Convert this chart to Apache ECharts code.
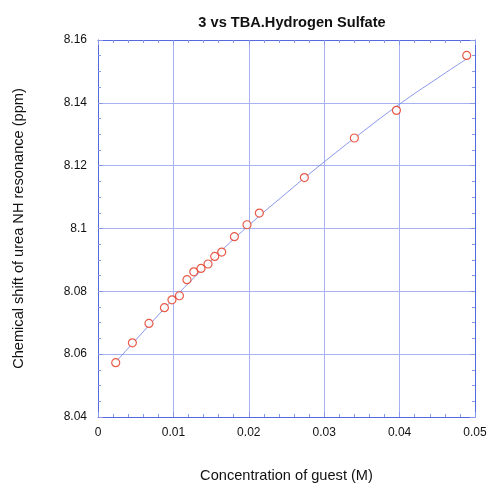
<!DOCTYPE html>
<html><head><meta charset="utf-8">
<script src="https://cdn.jsdelivr.net/npm/echarts@6/dist/echarts.min.js"></script>
<style>html,body{margin:0;padding:0;background:#fff}#c{width:489px;height:484px}</style>
</head><body><div id="c"></div>
<script>
const conc = [0.00235,0.00456,0.00676,0.00881,0.00981,0.0108,0.0118,0.0127,0.01366,0.01459,0.01548,0.01641,0.01809,0.01976,0.0214,0.02737,0.0340,0.03958,0.0489];
const shift = [8.0573,8.0636,8.0698,8.0748,8.0773,8.0786,8.0837,8.0862,8.0873,8.0887,8.0911,8.0925,8.0974,8.1012,8.1049,8.1162,8.1288,8.1376,8.1551];
const fitX = [0.00235,0.005,0.01,0.015,0.02,0.025,0.03,0.035,0.04,0.045,0.0489];
const fitY = [8.0575,8.0645,8.0776,8.0897,8.1010,8.1113,8.1212,8.1306,8.1396,8.1478,8.1540];
const xTicks = ['0','0.01','0.02','0.03','0.04','0.05'];
const yTicks = ['8.04','8.06','8.08','8.1','8.12','8.14','8.16'];

const FONT = '"Liberation Sans", Arial, sans-serif';
const frame = '#5468e0', gridC = '#a8b2f2', tickC = '#8a98ec';
const chart = echarts.init(document.getElementById('c'));
const baseX = {type:'value', min:0, max:0.05, interval:0.01,
  axisLine:{show:true, onZero:false, lineStyle:{color:frame, width:1}},
  axisTick:{show:true, inside:true, length:5, lineStyle:{color:tickC}},
  minorTick:{show:true, splitNumber:5, length:3, lineStyle:{color:tickC}},
  splitLine:{show:false}};
const baseY = {type:'value', min:8.04, max:8.16, interval:0.02,
  axisLine:{show:true, onZero:false, lineStyle:{color:frame, width:1}},
  axisTick:{show:true, inside:true, length:5, lineStyle:{color:tickC}},
  minorTick:{show:true, splitNumber:4, length:3, lineStyle:{color:tickC}},
  splitLine:{show:false}};
chart.setOption({
  animation:false,
  title:{text:'3 vs TBA.Hydrogen Sulfate', left:287, textAlign:'center', top:10,
    textStyle:{fontFamily:FONT, fontSize:14.6, fontWeight:'bold', color:'#111'}},
  grid:{left:98, right:14, top:40, bottom:67, containLabel:false, outerBoundsMode:'none'},
  xAxis:[
    Object.assign({}, baseX, {position:'bottom',
      splitLine:{show:true, lineStyle:{color:gridC, width:1}},
      axisLabel:{margin:10, fontFamily:FONT, fontSize:12, color:'#111',
        formatter:(v)=>xTicks[Math.round(v/0.01)]},
      name:'Concentration of guest (M)', nameLocation:'middle', nameGap:51,
      nameTextStyle:{fontFamily:FONT, fontSize:14.6, color:'#111'}}),
    Object.assign({}, baseX, {position:'top', axisLabel:{show:false}})
  ],
  yAxis:[
    Object.assign({}, baseY, {position:'left',
      splitLine:{show:true, lineStyle:{color:gridC, width:1}},
      axisLabel:{margin:11, fontFamily:FONT, fontSize:12, color:'#111',
        formatter:(v)=>yTicks[Math.round((v-8.04)/0.02)]},
      name:'Chemical shift of urea NH resonance (ppm)', nameLocation:'middle', nameGap:72,
      nameTextStyle:{fontFamily:FONT, fontSize:14.6, color:'#111'}}),
    Object.assign({}, baseY, {position:'right', axisLabel:{show:false}})
  ],
  series:[
    {type:'line', data:fitX.map((x,i)=>[x,fitY[i]]), smooth:true, showSymbol:false, symbol:'none',
      lineStyle:{color:'#6a7ce6', width:0.8}, z:2},
    {type:'scatter', data:conc.map((x,i)=>[x,shift[i]]), symbol:'circle', symbolSize:8,
      itemStyle:{color:'#ffffff', borderColor:'#e4321c', borderWidth:1.2}, z:3}
  ]
});
</script></body></html>
